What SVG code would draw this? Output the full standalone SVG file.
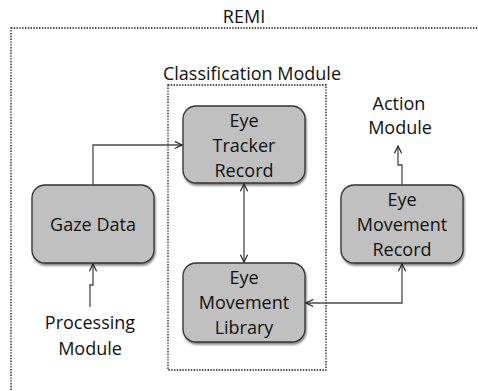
<svg xmlns="http://www.w3.org/2000/svg" width="478" height="391" viewBox="0 0 478 391">
  <defs>
    <marker id="open-arrow" viewBox="0 0 10 10" refX="9" refY="5" markerWidth="9" markerHeight="9" markerUnits="userSpaceOnUse" orient="auto-start-reverse">
      <path d="M1,1 L9,5 L1,9" fill="none" stroke="#222" stroke-width="1.3"/>
    </marker>
    <filter id="shadow" x="-10%" y="-10%" width="130%" height="130%">
      <feGaussianBlur in="SourceAlpha" stdDeviation="1"/>
      <feOffset dx="1" dy="2" result="blur"/>
      <feComponentTransfer><feFuncA type="linear" slope="0.5"/></feComponentTransfer>
      <feMerge><feMergeNode/><feMergeNode in="SourceGraphic"/></feMerge>
    </filter>
  </defs>
  <style>
    .frame { fill: none; stroke: #111; stroke-width: 1.3; stroke-dasharray: 1.4 1.4; }
    .box { fill: #c0c0c0; stroke: #333; stroke-width: 1.3; filter: url(#shadow); }
    .label { font-family: "Open Sans", "Liberation Sans", sans-serif; font-size: 18px; fill: #111; text-anchor: middle; }
    .wire { fill: none; stroke: #4a4a4a; stroke-width: 1.3; }
  </style>

  <rect width="478" height="391" fill="#fff"/>

  <!-- outer system boundary -->
  <g id="remi">
    <rect class="frame" x="11" y="28" width="480" height="380"/>
    <text class="label" x="244" y="23">REMI</text>
  </g>

  <!-- classification module boundary -->
  <g id="classification-module">
    <rect class="frame" x="168" y="85" width="158" height="285"/>
    <text class="label" x="252" y="80">Classification Module</text>
  </g>

  <g id="gaze-data">
    <rect class="box" x="32" y="185" width="122" height="78" rx="13"/>
    <text class="label" x="93" y="231">Gaze Data</text>
  </g>

  <g id="eye-tracker-record">
    <rect class="box" x="183" y="106" width="122" height="77" rx="13"/>
    <text class="label" x="244" y="127">Eye</text>
    <text class="label" x="244" y="152">Tracker</text>
    <text class="label" x="244" y="177">Record</text>
  </g>

  <g id="eye-movement-library">
    <rect class="box" x="183" y="263" width="122" height="79" rx="13"/>
    <text class="label" x="244" y="284">Eye</text>
    <text class="label" x="244" y="309">Movement</text>
    <text class="label" x="244" y="334">Library</text>
  </g>

  <g id="eye-movement-record">
    <rect class="box" x="341" y="185" width="122" height="78" rx="13"/>
    <text class="label" x="402" y="206">Eye</text>
    <text class="label" x="402" y="231">Movement</text>
    <text class="label" x="402" y="256">Record</text>
  </g>

  <g id="action-module">
    <text class="label" x="399" y="110">Action</text>
    <text class="label" x="400" y="134">Module</text>
  </g>

  <g id="processing-module">
    <text class="label" x="90" y="329">Processing</text>
    <text class="label" x="90" y="355">Module</text>
  </g>

  <g id="connectors">
    <!-- gaze data to tracker record -->
    <path class="wire" d="M93,185 V145 H182" marker-end="url(#open-arrow)"/>
    <!-- tracker record and movement library, both ways -->
    <path class="wire" d="M244,184 V262" marker-start="url(#open-arrow)" marker-end="url(#open-arrow)"/>
    <!-- movement record and movement library, both ways -->
    <path class="wire" d="M402,264 V303 H306" marker-start="url(#open-arrow)" marker-end="url(#open-arrow)"/>
    <!-- movement record up to action module -->
    <path class="wire" d="M402,185 V165 H398 V146" marker-end="url(#open-arrow)"/>
    <!-- processing module up to gaze data -->
    <path class="wire" d="M90,307 V285 H93 V264" marker-end="url(#open-arrow)"/>
  </g>
</svg>
